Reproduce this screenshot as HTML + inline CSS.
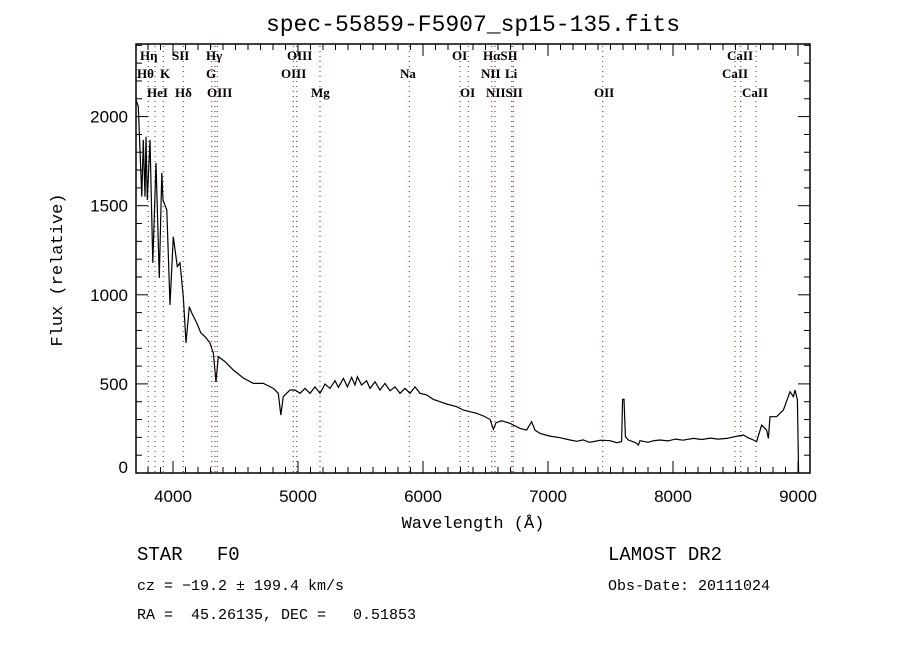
<!DOCTYPE html>
<html><head><meta charset="utf-8"><style>
body{margin:0;background:#fff;}
svg{display:block;font-family:"Liberation Sans",sans-serif;}
.lab{font-family:"Liberation Serif",serif;font-size:13px;font-weight:bold;fill:#000;}
.mono{font-family:"Liberation Mono",monospace;}
</style></head><body>
<svg id="chart" width="900" height="650" viewBox="0 0 900 650" xmlns="http://www.w3.org/2000/svg">
<rect width="900" height="650" fill="#fff"/>
<text x="473" y="31" text-anchor="middle" font-size="23" class="mono">spec-55859-F5907_sp15-135.fits</text>
<g id="lines"></g>
<g id="labels"></g>
<g id="axes"></g>
<path id="spec" fill="none" stroke="#000" stroke-width="1.2"/>
<text x="473" y="528" text-anchor="middle" font-size="17" class="mono">Wavelength (Å)</text>
<text transform="translate(62,270) rotate(-90)" text-anchor="middle" font-size="17" class="mono">Flux (relative)</text>
<text x="137" y="560" font-size="19" class="mono" xml:space="preserve">STAR   F0</text>
<text x="608" y="560" font-size="19" class="mono">LAMOST DR2</text>
<text x="137" y="590" font-size="15" class="mono">cz = −19.2 ± 199.4 km/s</text>
<text x="608" y="590" font-size="15" class="mono">Obs-Date: 20111024</text>
<text x="137" y="619" font-size="15" class="mono" xml:space="preserve">RA =  45.26135, DEC =   0.51853</text>
</svg>
<script>
const wavelengths=[3705,3722,3750,3762,3776,3784,3794,3816,3838,3864,3890,3910,3920,3950,3976,4002,4034,4056,4082,4104,4130,4150,4190,4222,4256,4296,4322,4344,4362,4416,4482,4562,4642,4722,4802,4842,4862,4882,4936,4976,5016,5056,5096,5136,5176,5216,5256,5296,5323,5363,5395,5429,5456,5475,5509,5549,5576,5616,5656,5696,5736,5776,5816,5856,5896,5936,5976,6029,6083,6136,6189,6269,6323,6376,6429,6483,6536,6563,6584,6629,6696,6776,6829,6869,6896,6936,7016,7096,7176,7230,7280,7330,7363,7420,7496,7550,7589,7597,7608,7619,7643,7700,7723,7736,7800,7850,7896,7960,8020,8080,8163,8230,8300,8360,8430,8496,8563,8600,8643,8669,8709,8749,8763,8776,8829,8883,8936,8963,8976,8995,9005];
const fluxValues=[2093,2056,1551,1869,1551,1887,1532,1869,1179,1740,1094,1684,1532,1476,943,1326,1158,1179,989,730,933,898,842,786,765,730,673,512,653,625,578,533,503,503,475,447,325,428,466,466,447,475,447,484,447,499,475,518,481,531,484,537,494,540,494,518,475,512,466,503,462,484,447,475,447,484,447,438,413,400,387,372,353,344,335,320,301,245,282,293,279,250,241,288,241,222,207,198,185,178,186,172,176,184,181,170,176,413,413,204,185,170,157,181,172,182,185,180,190,184,194,188,196,190,194,204,213,198,185,176,269,241,194,316,316,353,456,428,466,410,0];
const lineWaves=[3802,3856,3922,4082,4310,4336,4354,4962,4990,5176,5890,6296,6362,6550,6576,6710,6722,7438,8496,8542,8664];
const lineLabels=[["Hη",140,60],["SII",172,60],["Hγ",206,60],["OIII",287,60],["OI",452,60],["HαSII",483,60],["CaII",727,60],
["Hθ",137,78],["K",160,78],["G",206,78],["OIII",281,78],["Na",400,78],["NII",481,78],["Li",505,78],["CaII",722,78],
["HeI",147,97],["Hδ",175,97],["OIII",207,97],["Mg",311,97],["OI",460,97],["NIISII",486,97],["OII",594,97],["CaII",742,97]];
const xTicks=[4000,5000,6000,7000,8000,9000];
const yTicks=[0,500,1000,1500,2000];
const L=136,R=810,T=44,B=473;
function xs(w){return 173+(w-4000)*0.125;}
function ys(f){return 473-f*0.1782;}
const NS="http://www.w3.org/2000/svg";
function mk(tag,attrs,parent){const e=document.createElementNS(NS,tag);for(const k in attrs)e.setAttribute(k,attrs[k]);parent.appendChild(e);return e;}
const lg=document.getElementById('lines');
lineWaves.forEach(w=>{const l=mk('line',{x1:xs(w),x2:xs(w),y1:T+2,y2:B,stroke:'#8b1a1a','stroke-width':1,'stroke-dasharray':'1,4'},lg);

});
const lb=document.getElementById('labels');
lineLabels.forEach(a=>{const t=mk('text',{x:a[1],y:a[2],class:'lab'},lb);t.textContent=a[0];

});
const ax=document.getElementById('axes');
const fr=mk('rect',{x:L,y:T,width:R-L,height:B-T,fill:'none',stroke:'#000','stroke-width':1.5},ax);


for(let w=3800;w<=9000;w+=100){const x=xs(w);if(x<L||x>R)continue;const len=(w%1000===0)?12:6;
mk('line',{x1:x,x2:x,y1:B,y2:B-len,stroke:'#000'},ax);mk('line',{x1:x,x2:x,y1:T,y2:T+len,stroke:'#000'},ax);}
for(let f=0;f<=2400;f+=100){const y=ys(f);if(y<T)continue;const len=(f%500===0)?12:6;
mk('line',{x1:L,x2:L+len,y1:y,y2:y,stroke:'#000'},ax);mk('line',{x1:R,x2:R-len,y1:y,y2:y,stroke:'#000'},ax);}
xTicks.forEach(w=>{const t=mk('text',{x:xs(w),y:B+29,'text-anchor':'middle','font-size':17},ax);t.textContent=w;

});
yTicks.forEach(f=>{const t=mk('text',{x:L-8,y:ys(f)+6-(f===0?6:0),'text-anchor':'end','font-size':17},ax);t.textContent=f;

});
let d='';wavelengths.forEach((w,i)=>{d+=(i?'L':'M')+xs(w).toFixed(1)+','+ys(fluxValues[i]).toFixed(1);});
document.getElementById('spec').setAttribute('d',d);
</script>
</body></html>
